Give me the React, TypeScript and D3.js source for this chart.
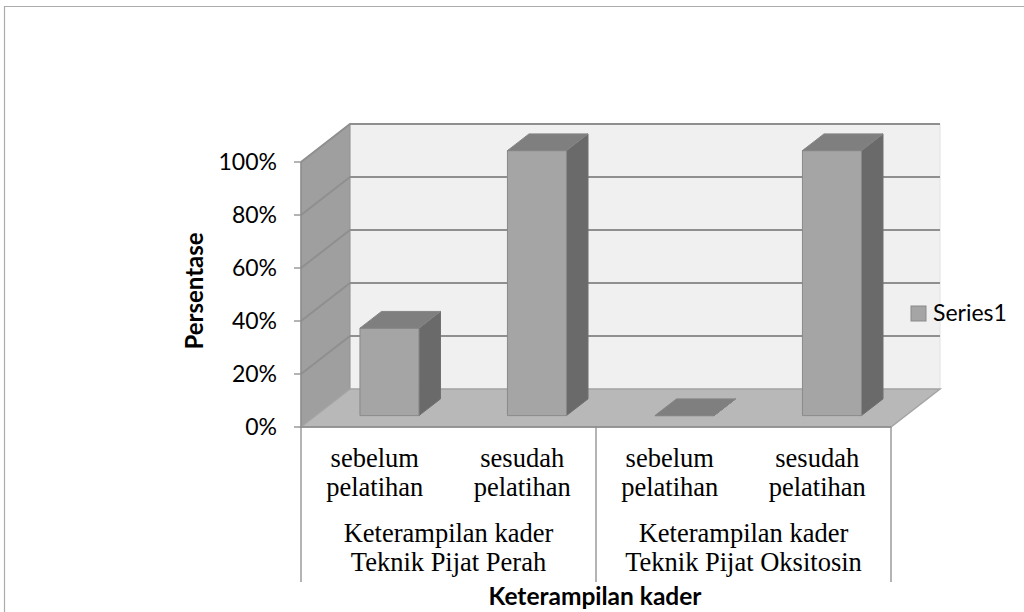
import * as d3 from "d3";

const leaves = ["sebelum|pelatihan", "sesudah|pelatihan", "sebelum|pelatihan ", "sesudah|pelatihan "];
const groups = ["Keterampilan kader|Teknik Pijat Perah", "Keterampilan kader|Teknik Pijat Oksitosin"];
const values = [0.33, 1, 0, 1];
const yTicks = [0, 0.2, 0.4, 0.6, 0.8, 1];
const seriesName = "Series1";
const xTitle = "Keterampilan kader";
const yTitle = "Persentase";

const W = 1024;
const H = 612;
const left = 301;
const right = 891;
const base = 427;
const top = 162;
// depth offset of the back wall
const DX = 49;
const DY = -38;
const zFront = 0.3;
const zBack = 0.74;

const sans = "Lato, 'Open Sans', sans-serif";
const serif = "'Liberation Serif', 'Times New Roman', serif";

const App = () => {
    const x = d3.scaleBand<string>().domain(leaves).range([left, right]).paddingInner(0.6).paddingOuter(0.3);
    const y = d3.scaleLinear([0, 1], [base, top]);
    const gx = d3.scaleBand<string>().domain(groups).range([left, right]);

    const p = (px: number, v: number, z: number): [number, number] => [px + DX * z, y(v) + DY * z];
    const poly = (pts: [number, number][]) => (d3.line()(pts) ?? "") + "Z";

    const backWall = poly([p(left, 0, 1), p(left, 1, 1), p(right, 1, 1), p(right, 0, 1)]);
    const sideWall = poly([p(left, 0, 0), p(left, 1, 0), p(left, 1, 1), p(left, 0, 1)]);
    const floor = poly([p(left, 0, 0), p(left, 0, 1), p(right, 0, 1), p(right, 0, 0)]);

    return (
        <svg width={W} height={H} style={{position: "absolute", left: 0, top: 0, background: "white"}}>
            <path d={`M4.5,${H}V6.5H${W}`} fill="none" stroke="#ababab" strokeWidth="1.2" />

            <path d={backWall} fill="#f0f0f0" stroke="#e2e2e2" />
            <path d={sideWall} fill="#9f9f9f" stroke="#929292" />
            <path d={floor} fill="#b8b8b8" stroke="#a4a4a4" strokeWidth="1.5" />

            {/* gridlines */}
            <g fill="none" stroke="#8f8f8f" strokeWidth="2">
                {yTicks.filter(t => t > 0).map(t => (
                    <path key={t} d={(d3.line()([p(left, t, 0), p(left, t, 1), p(right, t, 1)])) ?? ""} />
                ))}
            </g>

            {/* bars */}
            {values.map((v, i) => {
                const x0 = x(leaves[i])!;
                const x1 = x0 + x.bandwidth();
                const front = poly([p(x0, 0, zFront), p(x0, v, zFront), p(x1, v, zFront), p(x1, 0, zFront)]);
                const topFace = poly([p(x0, v, zFront), p(x0, v, zBack), p(x1, v, zBack), p(x1, v, zFront)]);
                const side = poly([p(x1, 0, zFront), p(x1, v, zFront), p(x1, v, zBack), p(x1, 0, zBack)]);
                return (
                    <g key={i} strokeWidth="1" strokeLinejoin="round">
                        <path d={side} fill="#6a6a6a" stroke="#707070" />
                        <path d={front} fill="#a5a5a5" stroke="#8a8a8a" />
                        <path d={topFace} fill="#7f7f7f" stroke="#858585" />
                    </g>
                );
            })}

            {/* value axis */}
            <g stroke="#8c8c8c" strokeWidth="1.3">
                <line x1={left} x2={left} y1={y(1)} y2={y(0)} />
                {yTicks.map(t => (
                    <line key={t} x1={left - 7} x2={left} y1={y(t)} y2={y(t)} />
                ))}
            </g>
            <g fontFamily={sans} fontSize="23" fill="#000" textAnchor="end">
                {yTicks.map(t => (
                    <text key={t} x={277} y={y(t)} dy="0.36em">{d3.format(".0%")(t)}</text>
                ))}
            </g>

            {/* category axis */}
            <g stroke="#8c8c8c" strokeWidth="1.3">
                <line x1={left} x2={right} y1={base} y2={base} />
                {[left, ...groups.map(g => gx(g)! + gx.bandwidth())].map((d, i) => (
                    <line key={i} x1={d} x2={d} y1={base} y2={582} />
                ))}
            </g>
            <g fontFamily={serif} fontSize="26.5" fill="#000" textAnchor="middle">
                {leaves.map((l, i) => {
                    const cx = x(l)! + x.bandwidth() / 2;
                    const [a, b] = l.trim().split("|");
                    return (
                        <g key={i}>
                            <text x={cx} y={467}>{a}</text>
                            <text x={cx} y={496}>{b}</text>
                        </g>
                    );
                })}
                {groups.map((g, i) => {
                    const cx = gx(g)! + gx.bandwidth() / 2;
                    const [a, b] = g.split("|");
                    return (
                        <g key={i}>
                            <text x={cx} y={542}>{a}</text>
                            <text x={cx} y={571}>{b}</text>
                        </g>
                    );
                })}
            </g>

            {/* titles */}
            <text x={595} y={605} fontFamily={sans} fontSize="24.5" fontWeight="bold" textAnchor="middle">{xTitle}</text>
            <text transform="translate(203,291) rotate(-90)" fontFamily={sans} fontSize="24" fontWeight="bold" textAnchor="middle">{yTitle}</text>

            {/* legend */}
            <rect x={911} y={306} width={15} height={15} fill="#a5a5a5" stroke="#8a8a8a" />
            <text x={933} y={321} fontFamily={sans} fontSize="23">{seriesName}</text>
        </svg>
    );
};

export default App;
